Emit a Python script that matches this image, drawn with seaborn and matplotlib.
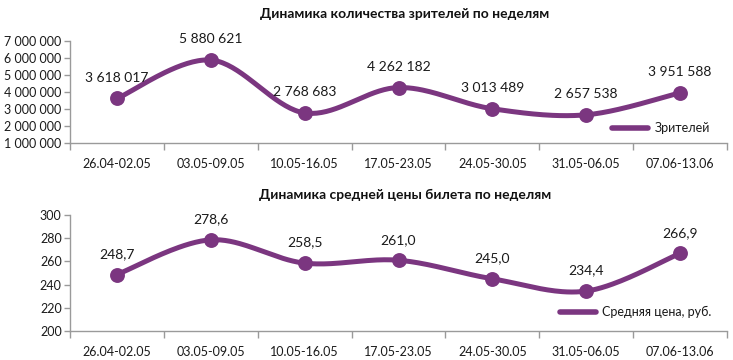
import numpy as np
import pandas as pd
import matplotlib
matplotlib.use("Agg")
import matplotlib.pyplot as plt
import seaborn as sns
from matplotlib.ticker import FuncFormatter, FixedLocator

weeks = ["26.04-02.05", "03.05-09.05", "10.05-16.05", "17.05-23.05",
         "24.05-30.05", "31.05-06.05", "07.06-13.06"]
viewers = [3618017, 5880621, 2768683, 4262182, 3013489, 2657538, 3951588]
prices = [248.7, 278.6, 258.5, 261.0, 245.0, 234.4, 266.9]

title_top = "Динамика количества зрителей по неделям"
title_bot = "Динамика средней цены билета по неделям"
legend_top = "Зрителей"
legend_bot = "Средняя цена, руб."

PURPLE = "#7B3680"
GRAY = "#9A9A9A"

sns.set_theme(style="white")
plt.rcParams["font.family"] = ["Lato", "DejaVu Sans"]


def smooth(x, y, n=40):
    pts = np.column_stack([x, y]).astype(float)
    P = np.vstack([pts[0], pts, pts[-1]])
    out = []
    t = np.linspace(0, 1, n)[:, None]
    for i in range(1, len(P) - 2):
        p0, p1, p2, p3 = P[i - 1], P[i], P[i + 1], P[i + 2]
        c1 = p1 + (p2 - p0) / 6
        c2 = p2 - (p3 - p1) / 6
        seg = (1 - t) ** 3 * p1 + 3 * (1 - t) ** 2 * t * c1 + 3 * (1 - t) * t ** 2 * c2 + t ** 3 * p2
        out.append(seg if i == 1 else seg[1:])
    return np.vstack(out)


def space_fmt(v, pos=None):
    return f"{int(round(v)):,}".replace(",", " ")


def comma_fmt(v):
    return f"{v:.1f}".replace(".", ",")


fig = plt.figure(figsize=(7.33, 3.6), dpi=100)
W, H = 733, 360


def make_ax(left, right, top, bottom):
    return fig.add_axes([left / W, 1 - bottom / H, (right - left) / W, (bottom - top) / H])


ax1 = make_ax(70, 727, 41, 143)
ax2 = make_ax(70, 727, 215, 331)


def draw(ax, vals, ylim, yticks, yfmt, lblfmt, title, leg, leg_anchor, title_y):
    x = np.arange(len(weeks))
    curve = smooth(x, vals)
    df_c = pd.DataFrame({"x": curve[:, 0], "y": curve[:, 1]})
    sns.lineplot(data=df_c, x="x", y="y", sort=False, estimator=None, ax=ax,
                 color=PURPLE, linewidth=3.6, label=leg, solid_capstyle="round")
    df_p = pd.DataFrame({"x": x, "y": vals})
    sns.scatterplot(data=df_p, x="x", y="y", ax=ax, color=PURPLE, s=115,
                    edgecolor=PURPLE, linewidth=0, zorder=5, legend=False)
    for xi, v in zip(x, vals):
        ax.annotate(lblfmt(v), (xi, v), xytext=(0, 10.5), textcoords="offset points",
                    ha="center", va="bottom", fontsize=10, color="#1a1a1a", zorder=6)
    ax.set_xlim(-0.5, len(weeks) - 0.5)
    ax.set_ylim(*ylim)
    ax.yaxis.set_major_locator(FixedLocator(yticks))
    ax.yaxis.set_major_formatter(FuncFormatter(lambda v, p: yfmt(v)))
    ax.set_xticks(x)
    ax.set_xticklabels(weeks)
    ax.xaxis.set_minor_locator(FixedLocator(np.arange(len(weeks) + 1) - 0.5))
    ax.tick_params(axis="x", which="major", length=0, pad=11, labelsize=9, labelcolor="#1a1a1a")
    ax.tick_params(axis="x", which="minor", length=5, width=1, color=GRAY, direction="out", bottom=True)
    ax.tick_params(axis="y", which="major", length=4, width=1, color=GRAY, direction="out",
                   left=True, pad=2, labelsize=9, labelcolor="#1a1a1a")
    ax.set_xlabel("")
    ax.set_ylabel("")
    for s in ["top", "right"]:
        ax.spines[s].set_visible(False)
    for s in ["left", "bottom"]:
        ax.spines[s].set_color(GRAY)
        ax.spines[s].set_linewidth(1)
    fig.text(405 / W, 1 - title_y / H, title, ha="center", va="center",
             fontsize=10, fontweight="bold", color="#111111")
    lg = ax.legend(loc="center left", bbox_to_anchor=leg_anchor, frameon=False,
                   borderaxespad=0, borderpad=0, handlelength=2.9, handletextpad=0.5,
                   fontsize=9)
    for line in lg.get_lines():
        line.set_linewidth(4)
    for t in lg.get_texts():
        t.set_color("#1a1a1a")


draw(ax1, viewers, (1_000_000, 7_000_000), list(range(1_000_000, 7_000_001, 1_000_000)),
     space_fmt, space_fmt, title_top, legend_top, ((612 - 70) / 657, (143 - 128) / 102), 14)
draw(ax2, prices, (200, 300), list(range(200, 301, 20)),
     lambda v: f"{int(v)}", comma_fmt, title_bot, legend_bot,
     ((560 - 70) / 657, (331 - 312) / 116), 195)

fig.savefig("out.png", dpi=100)
